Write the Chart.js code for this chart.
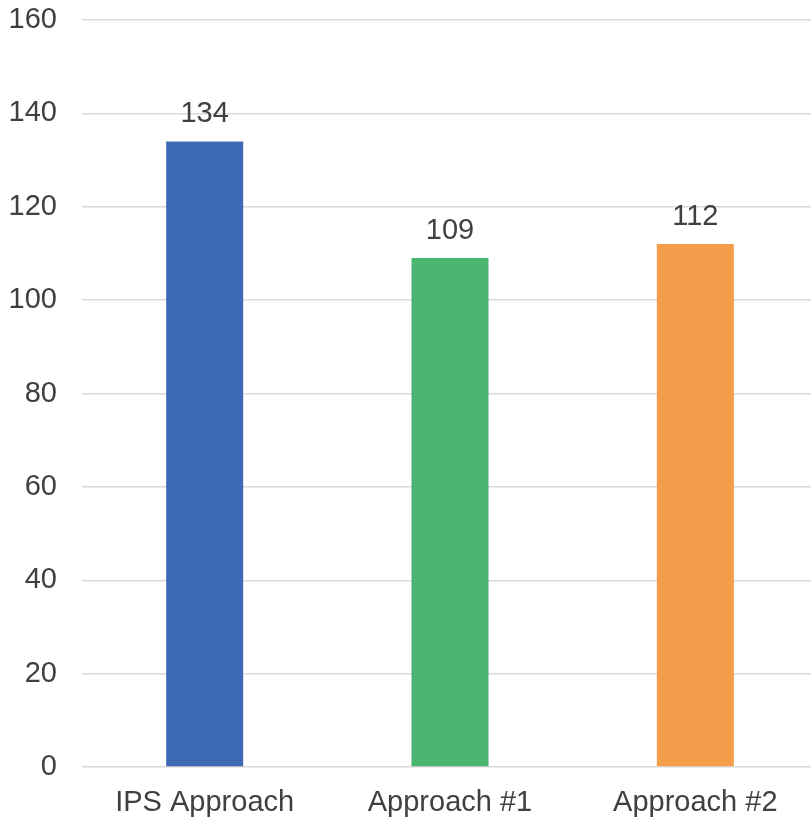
<!DOCTYPE html>
<html>
<head>
<meta charset="utf-8">
<script src="https://cdn.jsdelivr.net/npm/chart.js@4/dist/chart.umd.min.js"></script>
<style>
  html, body { margin: 0; padding: 0; overflow: hidden; background: #ffffff; }
  canvas { display: block; }
</style>
</head>
<body>
<canvas id="chart" width="818" height="819" style="width:818px;height:819px"></canvas>
<script>
// Categories and their values
const categories = ["IPS Approach", "Approach #1", "Approach #2"];
const values = [134, 109, 112];
const barColors = ["#3E6AB3", "#4AB471", "#F49D4A"];
const yTicks = [0, 20, 40, 60, 80, 100, 120, 140, 160];

const textColor = "#404040";
const fontFamily = "'Liberation Sans', Arial, sans-serif";
const fontSize = 29;

// Writes each bar's value just above it
const valueLabels = {
  id: "valueLabels",
  afterDatasetsDraw(chart) {
    const ctx = chart.ctx;
    const meta = chart.getDatasetMeta(0);
    ctx.save();
    ctx.fillStyle = textColor;
    ctx.font = fontSize + "px " + fontFamily;
    ctx.textAlign = "center";
    ctx.textBaseline = "alphabetic";
    meta.data.forEach((bar, i) => {
      ctx.fillText(String(values[i]), bar.x, bar.y - 19);
    });
    ctx.restore();
  }
};

new Chart(document.getElementById("chart"), {
  type: "bar",
  data: {
    labels: categories,
    datasets: [{
      data: values,
      backgroundColor: barColors,
      borderWidth: 0,
      categoryPercentage: 1,
      barPercentage: 0.314
    }]
  },
  options: {
    responsive: false,
    animation: false,
    devicePixelRatio: 1,
    layout: { padding: { top: 20, right: 0, bottom: 0, left: 0 } },
    plugins: {
      legend: { display: false },
      tooltip: { enabled: false }
    },
    scales: {
      x: {
        grid: { display: false, drawTicks: false },
        border: { display: false },
        afterFit(scale) { scale.height = 52; },
        ticks: {
          color: textColor,
          font: { family: fontFamily, size: fontSize },
          padding: 19,
          maxRotation: 0
        }
      },
      y: {
        min: 0,
        max: 160,
        afterBuildTicks(scale) {
          scale.ticks = yTicks.map(v => ({ value: v }));
        },
        afterFit(scale) {
          scale.width = 82;
          scale.paddingTop = 0;
          scale.paddingBottom = 0;
        },
        grid: { color: "#d9d9d9", lineWidth: 1.5, drawTicks: false },
        border: { display: false },
        ticks: {
          color: textColor,
          font: { family: fontFamily, size: fontSize },
          padding: 25
        }
      }
    }
  },
  plugins: [valueLabels]
});
</script>
</body>
</html>
